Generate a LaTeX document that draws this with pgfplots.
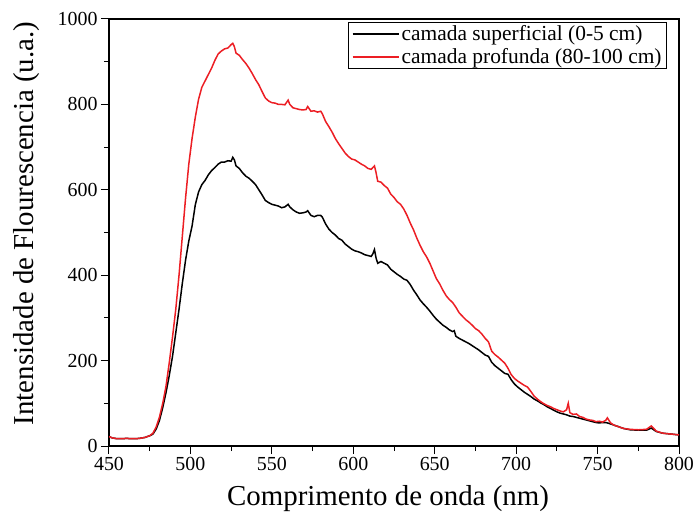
\documentclass[border=0pt]{standalone}
\usepackage{fontspec}
\setmainfont{Liberation Serif}
\usepackage{pgfplots}
\pgfplotsset{compat=1.18}
\usetikzlibrary{calc}

\definecolor{sred}{RGB}{236,30,36}

\begin{document}
\begin{tikzpicture}
\begin{axis}[
    name=ax,
    scale only axis,
    width=570bp, height=427bp,
    xmin=450, xmax=800,
    ymin=0, ymax=1000,
    xtick={450,500,...,800},
    ytick={0,200,...,1000},
    minor x tick num=1,
    minor y tick num=1,
    xtick pos=bottom, ytick pos=left,
    tick align=outside,
    major tick length=8bp, minor tick length=5bp,
    every tick/.style={black, line width=1bp},
    axis line style={line width=1.2bp},
    /pgf/number format/assume math mode=true,
    /pgf/number format/set thousands separator={},
    ticklabel style={font=\fontsize{20}{24}\selectfont},
    xlabel={Comprimento de onda (nm)},
    ylabel={Intensidade de Flourescencia (u.a.)},
    label style={font=\fontsize{29}{34}\selectfont},
    xlabel style={yshift=-8bp, xshift=-6bp},
    ylabel style={yshift=11bp, xshift=9bp},
    legend style={at={(axis description cs:0.979,0.993)}, anchor=north east,
        font=\fontsize{21.5}{25}\selectfont, draw=black, line width=1bp,
        inner xsep=3bp, inner ysep=1bp, row sep=2.5bp},
    legend cell align=left,
    legend image code/.code={\draw[#1, line width=1.8bp] (0bp,0bp) -- (46bp,0bp);},
]

\addplot[black, line width=1.5bp] coordinates {
(450,22)(452,19)(455,17)(458,17)(461,18)(463,17)(466,17)(469,18)(472,20)(475,24)
(477,28)(479,40)(481,60)(483,90)(485,125)(487,165)(489,210)(491,265)(493,320)(495,380)
(497,435)(499,480)(501,515)(503,565)(505,595)(507,612)(509,622)(511,635)(513,645)(515,652)
(517,660)(519,665)(521,665)(523,668)(525,667)(526,676)(527,670)(528,656)(530,650)(532,640)
(534,632)(536,627)(538,620)(540,612)(542,600)(544,588)(546,575)(548,570)(550,566)(552,564)
(554,562)(556,558)(558,560)(560,566)(561,560)(563,553)(565,548)(567,545)(569,546)(571,548)
(572,551)(574,540)(576,537)(578,540)(580,540)(581,536)(583,520)(585,508)(587,500)(589,494)
(591,486)(593,482)(595,473)(597,467)(599,461)(601,457)(603,455)(605,452)(607,448)(609,446)
(611,444)(612,450)(613,460)(614,440)(615,428)(617,432)(619,428)(621,424)(623,414)(625,408)
(627,402)(629,397)(631,391)(633,388)(635,378)(637,365)(639,354)(641,342)(643,333)(645,325)
(647,316)(649,306)(651,297)(653,290)(655,283)(657,278)(659,272)(661,268)(662,270)(663,257)
(665,252)(667,248)(669,244)(671,240)(673,235)(675,230)(677,225)(679,219)(681,213)(683,210)
(685,196)(687,188)(689,182)(691,176)(693,170)(695,168)(697,155)(699,145)(701,138)(703,132)
(705,126)(707,121)(709,116)(711,110)(713,106)(715,101)(717,97)(719,92)(721,88)(723,84)
(725,80)(727,77)(729,75)(731,73)(733,70)(735,69)(737,67)(739,65)(741,63)(743,61)
(745,59)(747,57)(749,55)(751,54)(753,55)(755,55)(757,53)(760,49)(763,45)(766,41)
(770,38)(775,37)(780,37)(783,42)(786,34)(790,30)(795,28)(800,26)
};
\addlegendentry{camada superficial (0-5 cm)}

\addplot[sred, line width=1.5bp] coordinates {
(450,22)(452,19)(455,17)(458,17)(461,18)(463,17)(466,17)(469,18)(472,20)(475,24)
(477,30)(479,45)(481,68)(483,100)(485,140)(487,195)(489,255)(491,320)(493,400)(495,490)
(497,580)(499,660)(501,720)(503,770)(505,812)(507,840)(509,855)(511,870)(513,885)(515,903)
(517,918)(519,925)(521,930)(523,932)(525,940)(526,943)(527,935)(528,920)(530,915)(532,905)
(534,896)(536,885)(538,872)(540,858)(542,846)(544,830)(546,815)(548,808)(550,804)(552,803)
(554,800)(556,800)(558,799)(560,810)(561,800)(563,792)(565,790)(567,788)(569,787)(571,788)
(572,795)(574,784)(576,785)(578,782)(580,784)(581,778)(583,760)(585,748)(587,735)(589,720)
(591,708)(593,697)(595,686)(597,678)(599,672)(601,670)(603,665)(605,660)(607,656)(609,650)
(611,648)(613,656)(614,640)(615,620)(617,618)(619,610)(621,604)(623,590)(625,582)(627,572)
(629,566)(631,555)(633,540)(635,522)(637,506)(639,487)(641,470)(643,455)(645,443)(647,428)
(649,410)(651,392)(653,380)(655,365)(657,352)(659,343)(661,336)(663,325)(665,312)(667,304)
(669,296)(671,290)(673,283)(675,275)(677,270)(679,262)(681,252)(683,244)(685,222)(687,214)
(689,208)(691,201)(693,194)(695,182)(697,167)(699,158)(701,152)(703,147)(705,142)(707,138)
(709,128)(711,117)(713,110)(715,104)(717,99)(719,95)(721,92)(723,88)(725,85)(727,82)
(729,80)(731,85)(732,100)(733,78)(735,74)(737,75)(739,69)(741,67)(743,63)(745,61)
(747,60)(749,57)(751,58)(753,56)(755,60)(756,66)(758,54)(760,49)(763,45)(766,41)
(770,39)(775,38)(780,39)(783,47)(786,35)(790,30)(795,28)(800,26)
};
\addlegendentry{camada profunda (80-100 cm)}

\end{axis}
\pgfresetboundingbox
\path ($(ax.south west)+(-109bp,-75bp)$) rectangle ($(ax.north east)+(15bp,19bp)$);
\end{tikzpicture}
\end{document}
